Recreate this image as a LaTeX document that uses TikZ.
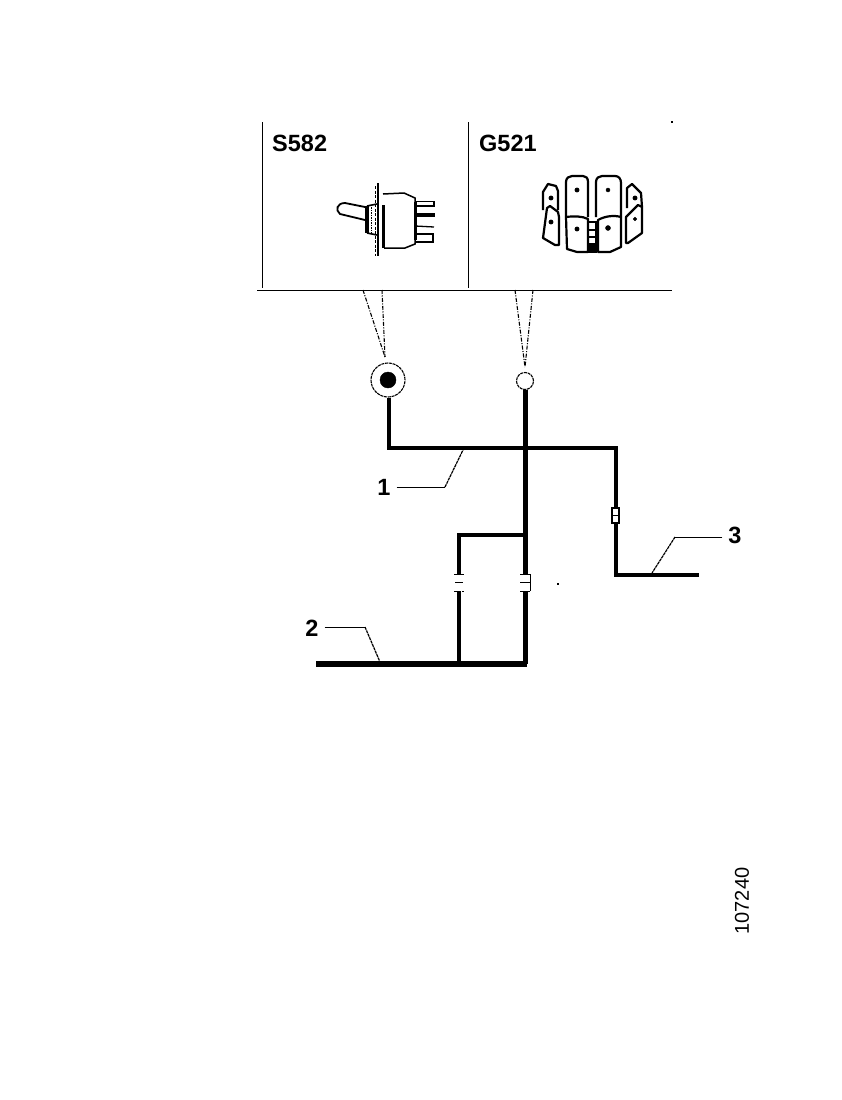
\documentclass[tikz,border=0pt]{standalone}
\usepackage{fontspec}
\setmainfont{Liberation Sans}
\usetikzlibrary{calc}
\tikzset{
  wire/.style={black,line width=4pt,line join=miter},
  mainwire/.style={black,line width=5pt,line join=miter},
  busbar/.style={black,line width=5.5pt},
  frameline/.style={black,line width=1pt},
  leader/.style={black,line width=1pt},
  sightline/.style={black,line width=1.1pt,dash pattern=on 4pt off 1.5pt on 1pt off 1.5pt},
  pointer/.style={black,line width=1.2pt,dash pattern=on 3pt off .7pt},
  blade/.style={black,line width=2.2pt,line join=round,fill=white},
  hole/.style={black,fill=black},
  tag/.style={inner sep=0pt,font=\fontsize{23.5}{24}\selectfont\bfseries},
  smalltag/.style={inner sep=0pt,font=\fontsize{20}{20}\selectfont}
}
\begin{document}
\begin{tikzpicture} [x=1pt,y=-1pt]
\useasboundingbox (0,0) rectangle (841,1100);

\coordinate(FL) at (257,290);
\coordinate(FR) at (672,290);
\draw[frameline] (FL)--(FR);
\draw[frameline] (262,122)--(262,288);
\draw[frameline] (468,122)--(468,288);
\fill (671,121) rectangle (672.5,122.5);

\node[tag,anchor=west] (S582) at (272,143) {S582};
\node[tag,anchor=west] (G521) at (479,143) {G521};

\draw[black,line width=1.5pt,fill=white] (383,194)--(404,193)--(415,198)--(415,244)--(405,248)--(384,248);
\draw[black,line width=3pt] (383,205)--(383,248);
\draw[black,line width=3pt] (415,202)--(415,240);
\draw[black,line width=1.5pt] (415,201.5)--(434,201.5)--(434,206)--(415,206);
\fill (415,213) rectangle (434.5,217);
\draw[black,line width=1.3pt] (415,226)--(434,227);
\draw[black,line width=1.6pt] (415,234)--(433,234)--(433,242)--(415,242);
\draw[black,line width=1.1pt] (378,183)--(378,256);
\draw[black,line width=1pt,dash pattern=on 3pt off 1.5pt] (375,186)--(375,256);
\draw[black,line width=1.8pt,fill=white] (365,207) -- (345,203) .. controls (337,203) and (335,210) .. (340,214) -- (365,220);
\draw[black,line width=3.5pt] (367,206)--(367,233);
\draw[black,line width=1.6pt] (367,206)--(377,204);
\draw[black,line width=1.6pt] (367,233)--(377,235);
\draw[black,line width=1pt,dash pattern=on 1.5pt off 1pt] (371.5,207)--(371.5,233);

\draw[blade] (543,210)--(543,192)--(548,184)--(556,186)--(558,191)--(558,210);
\draw[blade] (627,208)--(627,188)--(632,184)--(641,193)--(642,207);
\draw[blade] (566,217)--(566,182) .. controls (566,178) and (569,176) .. (572,176) -- (583,176) .. controls (586,176) and (588,178) .. (588,182) -- (588,217);
\draw[blade] (596,217)--(596,182) .. controls (596,178) and (599,176) .. (602,176) -- (615,176) .. controls (619,176) and (621,179) .. (621,183) -- (621,217);
\draw[blade] (547,208)--(550,206)--(558,212)--(559,217)--(559,245)--(555,245)--(543,238)--cycle;
\draw[blade] (626,217)--(638,205)--(642,207)--(642,233)--(628,243)--(626,243)--cycle;
\draw[blade] (566,217) .. controls (574,216) and (582,216) .. (588,219) -- (588,252) -- (577,252) -- (567,249) -- cycle;
\draw[blade] (598,220) .. controls (605,216) and (614,215) .. (621,217) -- (621,247) -- (610,252) -- (598,252) -- cycle;
\draw[black,line width=1.6pt] (588,222)--(596,222)--(596,252)--(588,252);
\foreach \y in {230,237,244} {\draw[black,line width=1.4pt] (588,\y)--(596,\y);}
\fill (588,244) rectangle (596,252);
\foreach \x/\y/\r in {577/190/2.2,608/190/2,551/198/2.2,635/198/2.2,551/222/2.2,635/219/1.8,577/229/2.2,608/228/2.5} {
  \draw[hole] (\x,\y) circle (\r);
}

\node[draw,circle,line width=1.1pt,dash pattern=on 3pt off .8pt,minimum size=34pt,inner sep=0pt] (PlugS) at (388,380) {};
\filldraw[black] (PlugS.center) circle (8);
\node[draw,circle,line width=1.1pt,dash pattern=on 3pt off .8pt,minimum size=17pt,inner sep=0pt] (PlugG) at (525,381) {};

\coordinate (TipS) at (385,357);
\coordinate (TipG) at (525,367);
\coordinate (FS1) at (363,290);
\coordinate (FS2) at (382,290);
\coordinate (FG1) at (515,290);
\coordinate (FG2) at (533,290);
\draw[sightline] (FS1)--(TipS);
\draw[sightline] (FS2)--(TipS);
\draw[sightline] (FG1)--(TipG);
\draw[sightline] (FG2)--(TipG);

\coordinate (A) at (388.5,448);
\coordinate (B) at (615.5,448);
\coordinate (C) at (615.5,575);
\coordinate (D) at (699,575);
\coordinate (E) at (525,535);
\coordinate (F) at (459,535);
\coordinate (G) at (459,664);
\coordinate (H) at (316,664);
\coordinate (J) at (527,664);

\draw[wire] (PlugS.south -| A)--(A)--(B)--(C)--(D);
\draw[mainwire] (PlugG.south)--(525,574);
\draw[mainwire] (525,591)--(525,664);
\draw[wire] (E)--(F)--(459,574);
\draw[wire] (459,591)--(G);
\draw[busbar] (H)--(J);

\node[draw,line width=1.1pt,fill=white,minimum width=7pt,minimum height=15pt,inner sep=0pt] (ClipC) at (615.5,515.5) {};
\draw[black,line width=1pt] (ClipC.west)--(ClipC.east);
\draw[black,line width=1pt] (520,574)--(530,574)--(530,591);
\draw[black,line width=1pt] (520,582)--(530,582);
\draw[black,line width=1pt,dash pattern=on 3pt off 1pt] (520,591)--(530,591);
\draw[black,line width=1pt] (454,574)--(464,574);
\draw[black,line width=1pt] (455,582)--(463,582);
\draw[black,line width=1pt,dash pattern=on 3pt off 1pt] (454,591)--(464,591);
\fill (557,583) rectangle (559,585);

\node[tag] (Num1) at (384,487) {1};
\node[tag] (Num2) at (312,628) {2};
\node[tag] (Num3) at (735,535) {3};
\coordinate (K1) at (445,487);
\coordinate (W1) at (463,450);
\coordinate (K2) at (365,627);
\coordinate (W2) at (380,662);
\coordinate (K3) at (675,537);
\coordinate (W3) at (652,573);
\draw[leader] (Num1.east)++(6,0) -- (K1);
\draw[pointer] (K1)--(W1);
\draw[leader] (Num2.east)++(6,-1) -- (K2);
\draw[pointer] (K2)--(W2);
\draw[leader] (Num3.west)++(-6,2) -- (K3);
\draw[pointer] (K3)--(W3);

\node[smalltag,rotate=90] (Code) at (742,901) {107240};

\end{tikzpicture}
\end{document}
